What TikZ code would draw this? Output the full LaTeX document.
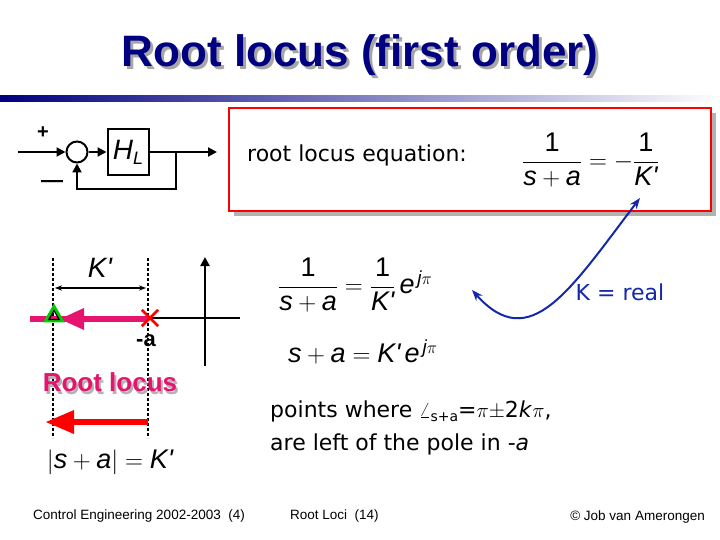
\documentclass[tikz,border=0pt]{standalone}
\usepackage{fontspec}
\usepackage{amsmath}
\setmainfont{DejaVu Sans}
\newfontfamily\arial{Liberation Sans}
\usetikzlibrary{arrows.meta,shapes.geometric}
\newcommand{\vv}[1]{\text{\arial\itshape #1}}
\newcommand{\vr}[1]{\text{\arial #1}}
\definecolor{navy}{RGB}{0,0,128}
\definecolor{pinkred}{RGB}{230,20,110}
\definecolor{blu}{RGB}{20,40,170}
\tikzset{
  wire/.style={line width=2pt},
  arr/.style={wire,-{Triangle[length=9pt,width=9pt]}},
  dotl/.style={line width=2.5pt,dash pattern=on 2.5pt off 2.5pt},
  eq/.style={font=\fontsize{27}{32}\selectfont,inner sep=0pt},
  foot/.style={font=\arial\fontsize{13.5}{16}\selectfont,inner sep=0pt},
  txt/.style={font=\fontsize{22}{26}\selectfont,inner sep=0pt}
}
\begin{document}
\begin{tikzpicture}[x=1pt,y=-1pt]
\useasboundingbox (0,0) rectangle (720,540);
\fill[white] (0,0) rectangle (720,540);
% title
\node[text=gray!70,font=\arial\bfseries\fontsize{44}{50}\selectfont] at (363,58) {Root locus (first order)};
\node (title)[text=navy,font=\arial\bfseries\fontsize{44}{50}\selectfont] at (360,55) {Root locus (first order)};
\shade[left color=navy,right color=white] (0,96) rectangle (720,102);
% red box
\fill[gray!60] (234,113) rectangle (716,216);
\node (box)[draw=red,line width=2pt,fill=white,minimum width=482pt,minimum height=103pt,anchor=north west] at (228,107) {};
\node (rle)[txt,anchor=west] at (247,155) {root locus equation:};
\node (eq0)[eq,anchor=west] at (522,160) {$\dfrac{\vr{1}}{\vv{s}+\vv{a}}=-\dfrac{\vr{1}}{\vv{K'}}$};
\coordinate (kp) at (640,198);
% block diagram
\coordinate (in) at (18,152);
\node (sum)[circle,draw,line width=2pt,minimum size=21pt,inner sep=0pt] at (77,152) {};
\node (hl)[draw,line width=2pt,minimum width=41pt,minimum height=46pt,font=\arial\itshape\fontsize{28}{30}\selectfont] at (128,152) {H\raisebox{-5pt}{\fontsize{18}{18}\selectfont L}};
\coordinate (out) at (217,152);
\draw[arr] (in) -- (sum);
\draw[arr] (sum) -- (hl);
\draw[arr] (hl.east) -- (out);
\draw[arr] (176,152) -- (176,189) -| (sum.south);
\node (plus)[font=\arial\bfseries\fontsize{20}{20}\selectfont] at (43,133) {+};
\node (minus)[font=\arial\bfseries\fontsize{22}{22}\selectfont] at (52,184) {—};
% left locus figure
\draw[dotl] (53,258) -- (53,438);
\draw[dotl] (148,258) -- (148,438);
\node (kl)[font=\arial\itshape\fontsize{28}{30}\selectfont] at (100,268) {K'};
\draw[line width=1.5pt,{Stealth[length=7pt]}-{Stealth[length=7pt]}] (55,288) -- (146,288);
\coordinate (axl) at (148,318);
\coordinate (axr) at (240,318);
\draw[line width=2.5pt] (axl) -- (axr);
\draw[line width=2.5pt,-{Triangle[length=9pt,width=9pt]}] (205,366) -- (205,257);
\draw[pinkred,line width=6pt] (30,319) -- (148,319);
\fill[pinkred] (60,319) -- (84,308) -- (84,330) -- cycle;
\node (tri)[regular polygon,regular polygon sides=3,draw=green!80!black,line width=3pt,minimum size=19pt,inner sep=0pt] at (54,316) {};
\node (tri2)[regular polygon,regular polygon sides=3,draw=black,line width=1.2pt,minimum size=12pt,inner sep=0pt] at (54,316.5) {};
\node (pole)[minimum size=16pt,inner sep=0pt] at (150,318) {};
\draw[red,line width=2.5pt] (pole.north west) -- (pole.south east) (pole.north east) -- (pole.south west);
\node (ma)[font=\arial\bfseries\fontsize{22}{22}\selectfont] at (146,341) {-a};
\node[text=gray!60,font=\arial\bfseries\fontsize{26}{28}\selectfont] at (112,385) {Root locus};
\node (rl)[text=pinkred,font=\arial\bfseries\fontsize{26}{28}\selectfont] at (110,382) {Root locus};
\draw[red,line width=6pt] (148,422) -- (68,422);
\fill[red] (46,422) -- (74,410) -- (74,434) -- cycle;
\node (mag)[eq] at (110,462) {$\left|\vv{s}+\vv{a}\right|=\vv{K'}$};
% middle equations
\node (eq1)[eq,anchor=west] at (278,285) {$\dfrac{\vr{1}}{\vv{s}+\vv{a}}=\dfrac{\vr{1}}{\vv{K'}}\,\vv{e}^{\,\vv{j}\pi}$};
\node (eq2)[eq,anchor=west] at (288,352) {$\vv{s}+\vv{a}=\vv{K'}\,\vv{e}^{\,\vv{j}\pi}$};
\node (kr)[txt,text=blu] at (620,292) {K = real};
\coordinate (eqtip) at (472,290);
\draw[blu,line width=2pt,{Stealth[length=11pt]}-{Stealth[length=11pt]}] (kp) .. controls (570,290) and (530,355) .. (eqtip);
\node (pts)[txt,anchor=west] at (270,411) {points where $\angle$\raisebox{-4pt}{\fontsize{14}{14}\selectfont s+a}=$\pi\pm$2\textit{k}$\pi$,};
\node (left)[txt,anchor=west] at (270,444) {are left of the pole in -\textit{a}};
% footer
\node (f1)[foot,anchor=west] at (33,516) {Control Engineering 2002-2003\ \ (4)};
\node (f2)[foot,anchor=west] at (290,516) {Root Loci\ \ (14)};
\node (f3)[foot,anchor=east] at (705,517) {\textcopyright\ Job van Amerongen};
\end{tikzpicture}
\end{document}
